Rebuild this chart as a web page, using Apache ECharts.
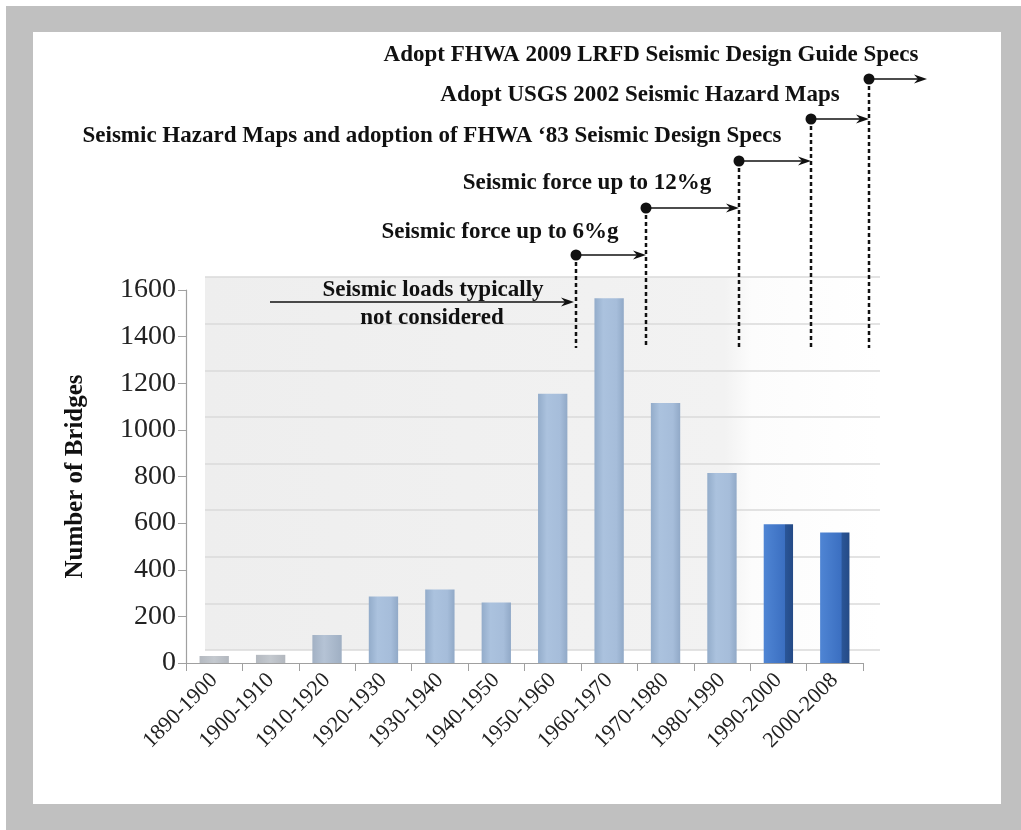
<!DOCTYPE html>
<html>
<head>
<meta charset="utf-8">
<script src="https://cdn.jsdelivr.net/npm/echarts@6/dist/echarts.min.js"></script>
<style>
html,body{margin:0;padding:0;background:#fff;}
#frame{position:absolute;left:6px;top:6px;width:1015px;height:824px;background:#c0c0c0;}
#inner{position:absolute;left:33px;top:32px;width:968px;height:772px;background:#fff;}
#main{position:absolute;left:0;top:0;width:1021px;height:830px;}
</style>
</head>
<body>
<div id="frame"></div>
<div id="inner"></div>
<div id="main"></div>
<script>
// ---- data ----
const categories = ['1890-1900','1900-1910','1910-1920','1920-1930','1930-1940','1940-1950',
                    '1950-1960','1960-1970','1970-1980','1980-1990','1990-2000','2000-2008'];
const bridges = [30, 35, 120, 285, 315, 260, 1155, 1565, 1115, 815, 595, 560];
const yMin = 0, yMax = 1600, yStep = 200;
const axisTitle = 'Number of Bridges';
const milestoneTexts = [
  'Adopt FHWA 2009 LRFD Seismic Design Guide Specs',
  'Adopt USGS 2002 Seismic Hazard Maps',
  'Seismic Hazard Maps and adoption of FHWA \u201883 Seismic Design Specs',
  'Seismic force up to 12%g',
  'Seismic force up to 6%g'
];
const earlyText = ['Seismic loads typically', 'not considered'];

// ---- layout / style ----
const SERIF = '"Liberation Serif","DejaVu Serif",serif';
const chart = echarts.init(document.getElementById('main'));

function barColor(p){
  const i = p.dataIndex;
  if (i >= 10) {
    return new echarts.graphic.LinearGradient(0,0,1,0,[
      {offset:0,color:'#4f85d4'},{offset:0.72,color:'#3b6fc1'},
      {offset:0.74,color:'#2a5597'},{offset:1,color:'#244a86'}]);
  }
  if (i <= 1) {
    return new echarts.graphic.LinearGradient(0,0,1,0,[
      {offset:0,color:'#b4b9c0'},{offset:0.5,color:'#c4c9cf'},{offset:1,color:'#b2b7be'}]);
  }
  if (i === 2) {
    return new echarts.graphic.LinearGradient(0,0,1,0,[
      {offset:0,color:'#a2b1c4'},{offset:0.4,color:'#b5c3d5'},{offset:1,color:'#9fafc3'}]);
  }
  return new echarts.graphic.LinearGradient(0,0,1,0,[
    {offset:0,color:'#93acca'},{offset:0.3,color:'#abc2de'},
    {offset:0.75,color:'#a6bdda'},{offset:1,color:'#91a9c7'}]);
}

// annotation geometry (pixels, layout only)
const milestoneX = [869, 811, 739, 646, 576];
const dotY = [79, 119, 161, 208, 255];
const arrowEnd = [927, 869, 811, 739, 646];
const textPos = [[651,55],[640,95],[432,136],[587,183],[500,232]];
const dashBottom = 348;
const ANN_FONT = 'bold 23px ' + SERIF;

const graphics = [];
milestoneX.forEach((x, k) => {
  graphics.push({type:'line', z:100, shape:{x1:x,y1:dotY[k],x2:x,y2:dashBottom},
    style:{stroke:'#111', lineWidth:2.5, lineDash:[4,3]}});
  graphics.push({type:'line', z:100, shape:{x1:x,y1:dotY[k],x2:arrowEnd[k]-4,y2:dotY[k]},
    style:{stroke:'#111', lineWidth:1.5}});
  const ex = arrowEnd[k], ey = dotY[k];
  graphics.push({type:'polygon', z:100, shape:{points:[[ex-13,ey-4.5],[ex,ey],[ex-13,ey+4.5],[ex-9,ey]]},
    style:{fill:'#111'}});
  graphics.push({type:'circle', z:101, shape:{cx:x, cy:ey, r:5.5}, style:{fill:'#111'}});
  graphics.push({type:'text', z:100, style:{text:milestoneTexts[k], x:textPos[k][0], y:textPos[k][1],
    font:ANN_FONT, fill:'#111', align:'center', verticalAlign:'middle'}});
});
// early period arrow
graphics.push({type:'line', z:100, shape:{x1:270,y1:302,x2:570,y2:302}, style:{stroke:'#111', lineWidth:1.5}});
graphics.push({type:'polygon', z:100, shape:{points:[[561,297.5],[574,302],[561,306.5],[565,302]]}, style:{fill:'#111'}});
graphics.push({type:'text', z:100, style:{text:earlyText[0], x:433, y:290,
  font:ANN_FONT, fill:'#111', align:'center', verticalAlign:'middle'}});
graphics.push({type:'text', z:100, style:{text:earlyText[1], x:432, y:318,
  font:ANN_FONT, fill:'#111', align:'center', verticalAlign:'middle'}});

const option = {
  animation:false,
  backgroundColor:'transparent',
  grid:[
    {left:186, right:158, top:290, bottom:167},
    {left:205, right:141, top:277, bottom:180, show:true, borderWidth:0,
     backgroundColor:{type:'linear',x:0,y:0,x2:1,y2:0,colorStops:[
       {offset:0,color:'#eeeeee'},{offset:0.77,color:'#f2f2f2'},
       {offset:0.81,color:'#fcfcfc'},{offset:1,color:'#ffffff'}]}}
  ],
  xAxis:[
    {type:'category', gridIndex:0, data:categories,
     axisLine:{lineStyle:{color:'#a0a0a0', width:1.2}},
     axisTick:{show:true, length:8, lineStyle:{color:'#a0a0a0'}},
     axisLabel:{interval:0, rotate:45, margin:14, fontSize:22, fontFamily:SERIF, color:'#222'},
     splitLine:{show:false}},
    {type:'category', gridIndex:1, data:categories, show:false}
  ],
  yAxis:[
    {type:'value', gridIndex:0, min:yMin, max:yMax, interval:yStep,
     name:axisTitle, nameLocation:'middle', nameGap:98,
     nameTextStyle:{fontSize:25, fontWeight:'bold', fontFamily:SERIF, color:'#111'},
     axisLine:{show:true, lineStyle:{color:'#a0a0a0', width:1.2}},
     axisTick:{show:true, length:8, lineStyle:{color:'#a0a0a0'}},
     axisLabel:{fontSize:28, fontFamily:SERIF, color:'#222', margin:10,
                formatter:function(v){return String(v);}},
     splitLine:{show:false}},
    {type:'value', gridIndex:1, min:yMin, max:yMax, interval:yStep,
     axisLine:{show:false}, axisTick:{show:false}, axisLabel:{show:false},
     splitLine:{show:true, lineStyle:{color:'#dadada', width:1.5}}}
  ],
  series:[
    {type:'bar', xAxisIndex:0, yAxisIndex:0, data:bridges, barWidth:'52%',
     itemStyle:{color:barColor}}
  ],
  graphic:{elements:graphics}
};
chart.setOption(option);
</script>
</body>
</html>
